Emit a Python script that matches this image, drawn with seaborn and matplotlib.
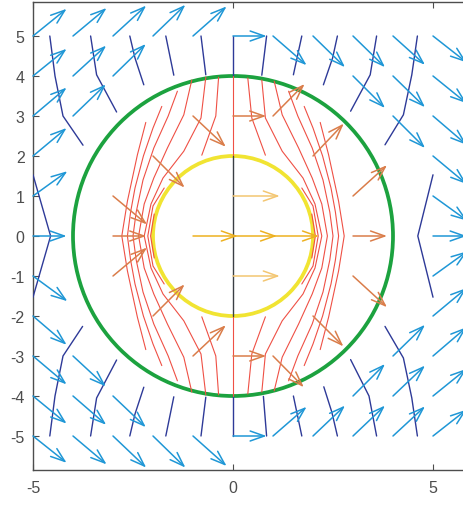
import matplotlib
matplotlib.use("Agg")
import matplotlib.pyplot as plt
from matplotlib.patches import Circle
import seaborn as sns

# ---------------------------------------------------------------------------
# Values
# ---------------------------------------------------------------------------
X_TICKS = [-5, 0, 5]
Y_TICKS = [-5, -4, -3, -2, -1, 0, 1, 2, 3, 4, 5]
CIRCLE_RADII = [4, 2]          # green shell, yellow core

# outer region arrows (r >= 5)
OUTER_X = [-5, -4, -3, -2, -1, 0, 1, 2, 3, 4, 5,
           -5, -4, -3, 3, 4, 5,
           -5, -4, 4, 5,
           -5, 5, -5, 5, -5, 5, -5, 5, -5, 5,
           -5, -4, 4, 5,
           -5, -4, -3, 3, 4, 5,
           -5, -4, -3, -2, -1, 0, 1, 2, 3, 4, 5]
OUTER_Y = [5, 5, 5, 5, 5, 5, 5, 5, 5, 5, 5,
           4, 4, 4, 4, 4, 4,
           3, 3, 3, 3,
           2, 2, 1, 1, 0, 0, -1, -1, -2, -2,
           -3, -3, -3, -3,
           -4, -4, -4, -4, -4, -4,
           -5, -5, -5, -5, -5, -5, -5, -5, -5, -5, -5]
OUTER_U = [0.84, 0.84, 0.83, 0.81, 0.84, 0.84, 0.84, 0.80, 0.80, 0.80, 0.84,
           0.84, 0.83, 0.82, 0.80, 0.80, 0.84,
           0.84, 0.82, 0.80, 0.84,
           0.84, 0.84, 0.86, 0.86, 0.84, 0.84, 0.86, 0.86, 0.84, 0.84,
           0.84, 0.82, 0.80, 0.84,
           0.84, 0.83, 0.82, 0.80, 0.80, 0.84,
           0.84, 0.84, 0.83, 0.81, 0.84, 0.84, 0.84, 0.80, 0.80, 0.80, 0.84]
OUTER_V = [0.68, 0.70, 0.76, 0.78, 0.74, 0.00, -0.73, -0.78, -0.78, -0.72, -0.66,
           0.68, 0.76, 0.80, -0.80, -0.78, -0.68,
           0.71, 0.79, -0.80, -0.72,
           0.70, -0.70, 0.62, -0.62, 0.00, 0.00, -0.63, 0.62, -0.72, 0.70,
           -0.71, -0.76, 0.78, 0.72,
           -0.69, -0.72, -0.78, 0.80, 0.76, 0.68,
           -0.67, -0.71, -0.79, -0.79, -0.75, 0.00, 0.73, 0.76, 0.76, 0.74, 0.66]

# shell arrows (2 < r < 4)
MID_X = [-1, -2, -3, -3, -3, -2, -1, 0, 0, 1, 2, 3, 3, 3, 2, 1]
MID_Y = [3, 2, 1, 0, -1, -2, -3, 3, -3, 3, 2, 1, 0, -1, -2, -3]
MID_U = [0.82, 0.79, 0.85, 0.83, 0.85, 0.79, 0.82, 0.83, 0.83,
         0.79, 0.77, 0.85, 0.85, 0.85, 0.76, 0.77]
MID_V = [-0.77, -0.79, -0.71, 0.00, 0.71, 0.79, 0.77, 0.00, 0.00,
         0.80, 0.81, 0.77, 0.00, -0.78, -0.76, -0.78]

# core arrows (r < 2)
INNER_X = [-1, 0, 1, 0, 0]
INNER_Y = [0, 0, 0, 1, -1]
INNER_U = [1.12, 1.10, 1.15, 1.17, 1.17]
INNER_V = [0.0, 0.0, 0.0, 0.0, 0.0]

# outer contour lines
BLUE_LINES_X = [
    [-4.58, -4.45, -4.25, -3.75], [-3.56, -3.41, -2.91], [-2.58, -2.45, -2.23],
    [-1.68, -1.48], [-0.80, -0.68], [0.0, 0.0], [0.84, 0.72], [1.72, 1.51],
    [2.61, 2.49, 2.26], [3.59, 3.43, 2.94], [4.61, 4.47, 4.26, 3.80],
    [-5.0, -4.56, -5.0], [5.0, 4.62, 5.0],
    [-4.58, -4.45, -4.25, -3.76], [-3.56, -3.41, -2.91], [-2.58, -2.45, -2.23],
    [-1.68, -1.48], [-0.80, -0.68], [0.0, 0.0], [0.84, 0.76], [1.72, 1.51],
    [2.61, 2.47, 2.27], [3.59, 3.40, 2.94], [4.61, 4.47, 4.26, 3.80],
]
BLUE_LINES_Y = [
    [5.0, 4.0, 3.0, 2.27], [5.0, 4.03, 3.10], [5.0, 4.45, 3.78],
    [5.0, 4.02], [5.0, 4.03], [5.0, 4.0], [5.0, 4.02], [5.0, 4.03],
    [5.0, 4.45, 3.78], [5.0, 4.03, 3.12], [5.0, 4.03, 3.03, 2.28],
    [1.53, 0.0, -1.53], [1.53, 0.0, -1.53],
    [-5.0, -4.0, -3.0, -2.26], [-5.0, -4.05, -3.10], [-5.0, -4.45, -3.78],
    [-5.0, -4.02], [-5.0, -4.03], [-5.0, -4.0], [-5.0, -4.01], [-5.0, -4.0],
    [-5.0, -4.40, -3.77], [-5.0, -4.0, -3.09], [-5.0, -4.05, -3.05, -2.26],
]

# shell contour lines
RED_LINES_X = [
    [-2.18, -2.39, -2.64, -2.78, -2.64, -2.39, -2.18],
    [-1.78, -2.00, -2.24, -2.45, -2.56, -2.64, -2.56, -2.45, -2.24, -2.00, -1.78],
    [-1.39, -1.62, -1.98, -2.25, -2.42, -2.50, -2.42, -2.25, -1.98, -1.62, -1.39],
    [-1.03, -1.23, -1.64, -1.98, -2.22, -2.36, -2.22, -1.98, -1.64, -1.23, -1.03],
    [-0.68, -0.80, -1.23, -1.75, -2.05, -2.22, -2.05, -1.75, -1.23, -0.80, -0.68],
    [-1.72, -2.00, -2.13, -2.00, -1.72],
    [-1.97, -2.06, -1.97],
    [-0.36, -0.43, -0.78], [-0.36, -0.43, -0.78],
    [2.18, 2.39, 2.64, 2.78, 2.64, 2.39, 2.18],
    [1.78, 2.00, 2.24, 2.45, 2.56, 2.64, 2.56, 2.45, 2.24, 2.00, 1.78],
    [1.39, 1.62, 1.98, 2.25, 2.42, 2.50, 2.42, 2.25, 1.98, 1.62, 1.39],
    [1.03, 1.23, 1.64, 1.98, 2.22, 2.36, 2.22, 1.98, 1.64, 1.23, 1.03],
    [0.72, 0.81, 1.23, 1.75, 2.05, 2.22, 2.05, 1.75, 1.23, 0.81, 0.72],
    [1.72, 2.00, 2.13, 2.00, 1.72],
    [1.97, 2.06, 1.97],
    [0.37, 0.47, 0.81], [0.37, 0.47, 0.81],
    [0.0, 0.0], [0.0, 0.0],
]
RED_LINES_Y = [
    [-2.84, -2.03, -0.87, 0.0, 0.87, 2.03, 2.84],
    [-3.24, -2.70, -2.00, -1.20, -0.60, 0.0, 0.60, 1.20, 2.00, 2.70, 3.24],
    [-3.62, -3.00, -2.20, -1.40, -0.60, 0.0, 0.60, 1.40, 2.20, 3.00, 3.62],
    [-3.90, -3.03, -2.20, -1.45, -0.80, 0.0, 0.80, 1.45, 2.20, 3.03, 3.90],
    [-3.97, -2.95, -2.12, -1.45, -0.80, 0.0, 0.80, 1.45, 2.12, 2.95, 3.97],
    [-1.20, -0.75, 0.0, 0.75, 1.20],
    [-0.55, 0.0, 0.55],
    [3.97, 3.00, 2.02], [-3.97, -3.00, -2.02],
    [-2.84, -2.03, -0.87, 0.0, 0.87, 2.03, 2.84],
    [-3.24, -2.70, -2.00, -1.20, -0.60, 0.0, 0.60, 1.20, 2.00, 2.70, 3.24],
    [-3.62, -3.00, -2.20, -1.40, -0.60, 0.0, 0.60, 1.40, 2.20, 3.00, 3.62],
    [-3.87, -3.03, -2.20, -1.45, -0.80, 0.0, 0.80, 1.45, 2.20, 3.03, 3.87],
    [-3.90, -2.95, -2.12, -1.45, -0.80, 0.0, 0.80, 1.45, 2.12, 2.95, 3.90],
    [-1.20, -0.75, 0.0, 0.75, 1.20],
    [-0.55, 0.0, 0.55],
    [3.95, 2.95, 2.02], [-3.95, -2.95, -2.02],
    [2.0, 4.0], [-4.0, -2.0],
]

# core contour line
BLACK_LINE_X = [0.0, 0.0]
BLACK_LINE_Y = [-2.0, 2.0]

# ---------------------------------------------------------------------------
# Style
# ---------------------------------------------------------------------------
AXIS_COLOR = "#4d4d4d"
ARROW_BLUE = "#1f97d6"
ARROW_ORANGE = "#da7d4a"
ARROW_GOLD = "#edb120"
ARROW_PALE = "#f3c672"
LINE_NAVY = "#2e3a98"
LINE_RED = "#ef5045"
CIRCLE_COLORS = ["#1ca23f", "#f1e432"]

sns.set_theme(style="white")
plt.rcParams["font.family"] = ["Liberation Sans", "DejaVu Sans"]
plt.rcParams["axes.unicode_minus"] = False


def draw_arrows(ax, xs, ys, us, vs, color, lw=1.1):
    """MATLAB-like quiver arrows with open heads."""
    for x, y, u, v in zip(xs, ys, us, vs):
        c = color(y) if callable(color) else color
        ax.annotate(
            "", xy=(x + u, y + v), xytext=(x, y),
            arrowprops=dict(arrowstyle="->,head_length=0.85,head_width=0.3",
                            color=c, lw=lw, shrinkA=0, shrinkB=0),
            annotation_clip=False, zorder=4,
        )


def draw_lines(ax, xs_list, ys_list, color, lw):
    for xs, ys in zip(xs_list, ys_list):
        sns.lineplot(x=xs, y=ys, sort=False, estimator=None, color=color,
                     linewidth=lw, ax=ax, legend=False, zorder=3)


fig = plt.figure(figsize=(4.63, 5.06), dpi=100)
ax = fig.add_axes([33 / 463, 35 / 506, 432 / 463, 468 / 506])

for r, c in zip(CIRCLE_RADII, CIRCLE_COLORS):
    ax.add_patch(Circle((0, 0), r, fill=False, edgecolor=c, linewidth=2.7, zorder=2))

draw_lines(ax, BLUE_LINES_X, BLUE_LINES_Y, LINE_NAVY, 1.0)
draw_lines(ax, RED_LINES_X, RED_LINES_Y, LINE_RED, 0.8)
draw_lines(ax, [BLACK_LINE_X], [BLACK_LINE_Y], "#3a3f44", 1.0)

draw_arrows(ax, OUTER_X, OUTER_Y, OUTER_U, OUTER_V, ARROW_BLUE)
draw_arrows(ax, MID_X, MID_Y, MID_U, MID_V, ARROW_ORANGE)
draw_arrows(ax, INNER_X, INNER_Y, INNER_U, INNER_V,
            lambda y: ARROW_GOLD if y == 0 else ARROW_PALE)

ax.set_xlim(-5, 5.8)
ax.set_ylim(-5.85, 5.85)
ax.set_xticks(X_TICKS)
ax.set_yticks(Y_TICKS)
ax.set_xticklabels([str(t) for t in X_TICKS])
ax.set_yticklabels([str(t) for t in Y_TICKS])
ax.set_xlabel("")
ax.set_ylabel("")
ax.tick_params(direction="in", length=4, width=0.8, color=AXIS_COLOR,
               labelcolor=AXIS_COLOR, labelsize=11.5, top=True, right=False,
               left=True, bottom=True)
ax.tick_params(axis="x", pad=7)
ax.tick_params(axis="y", pad=6)
for side in ["top", "bottom", "left"]:
    ax.spines[side].set_color(AXIS_COLOR)
    ax.spines[side].set_linewidth(1.0)
ax.spines["right"].set_visible(False)
ax.grid(False)

fig.savefig("out.png", dpi=100)
